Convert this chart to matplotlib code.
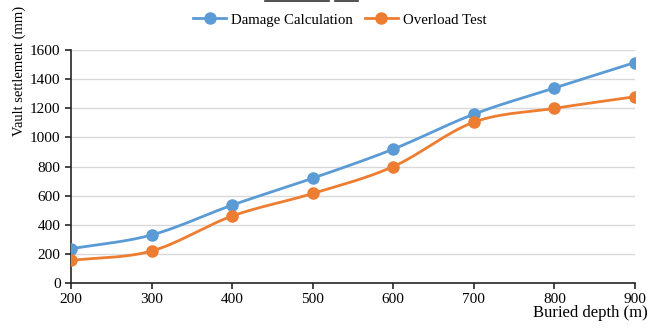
import numpy as np
import matplotlib
matplotlib.use("Agg")
import matplotlib.pyplot as plt
from matplotlib.lines import Line2D

depth = [200, 300, 400, 500, 600, 700, 800, 900]
damage_calc = [235, 330, 535, 720, 920, 1160, 1340, 1515]
overload_test = [155, 220, 460, 615, 800, 1105, 1200, 1280]
series_names = ["Damage Calculation", "Overload Test"]
colors = ["#5B9BD5", "#ED7D31"]

plt.rcParams['font.family'] = ['Liberation Serif', 'DejaVu Serif']


def smooth(xs, ys, n=30):
    xs = np.asarray(xs, float)
    ys = np.asarray(ys, float)
    px = np.concatenate([[2 * xs[0] - xs[1]], xs, [2 * xs[-1] - xs[-2]]])
    py = np.concatenate([[2 * ys[0] - ys[1]], ys, [2 * ys[-1] - ys[-2]]])
    ox, oy = [], []
    t = np.linspace(0, 1, n, endpoint=False)
    for i in range(1, len(px) - 2):
        for P, out in ((px, ox), (py, oy)):
            p0, p1, p2, p3 = P[i - 1], P[i], P[i + 1], P[i + 2]
            out.extend(0.5 * ((2 * p1) + (-p0 + p2) * t
                              + (2 * p0 - 5 * p1 + 4 * p2 - p3) * t ** 2
                              + (-p0 + 3 * p1 - 3 * p2 + p3) * t ** 3))
    ox.append(xs[-1]); oy.append(ys[-1])
    return np.array(ox), np.array(oy)


fig = plt.figure(figsize=(6.6, 3.32), dpi=100)
ax = fig.add_axes([0.1076, 0.1476, 0.8545, 0.7014])

handles = []
for vals, name, c in zip([damage_calc, overload_test], series_names, colors):
    sx, sy = smooth(depth, vals)
    ax.plot(sx, sy, color=c, lw=2, zorder=3)
    ax.plot(depth, vals, 'o', color=c, ms=8, zorder=4)
    handles.append(Line2D([], [], color=c, lw=2, marker='o', ms=8, label=name))

ax.set_xlim(200, 900)
ax.set_ylim(0, 1600)
ax.set_xticks(depth)
ax.set_yticks(np.arange(0, 1601, 200))
ax.grid(axis='y', color='#d9d9d9', lw=1)
ax.set_axisbelow(True)
for s in ['top', 'right']:
    ax.spines[s].set_visible(False)
for s in ['left', 'bottom']:
    ax.spines[s].set_color('#262626')
    ax.spines[s].set_linewidth(1.2)
ax.tick_params(direction='out', length=4, width=1.2, color='#262626', labelsize=11)
ax.set_ylabel("Vault settlement (mm)", fontsize=10.5)
ax.yaxis.set_label_coords(-0.08, 0.91)
ax.set_xlabel("Buried depth (m)", fontsize=12)
ax.xaxis.set_label_coords(1.023, -0.095)
ax.xaxis.label.set_ha('right')

fig.legend(handles=handles, loc='center', bbox_to_anchor=(0.515, 0.94), ncol=2,
           frameon=False, fontsize=10.7, handlelength=2.2, columnspacing=0.8, handletextpad=0.35)

fig.add_artist(Line2D([265 / 660, 329 / 660], [0.998, 0.998], color='#333333', lw=1.2))
fig.add_artist(Line2D([335 / 660, 358 / 660], [0.998, 0.998], color='#333333', lw=1.2))

fig.savefig("out.png", dpi=100)
